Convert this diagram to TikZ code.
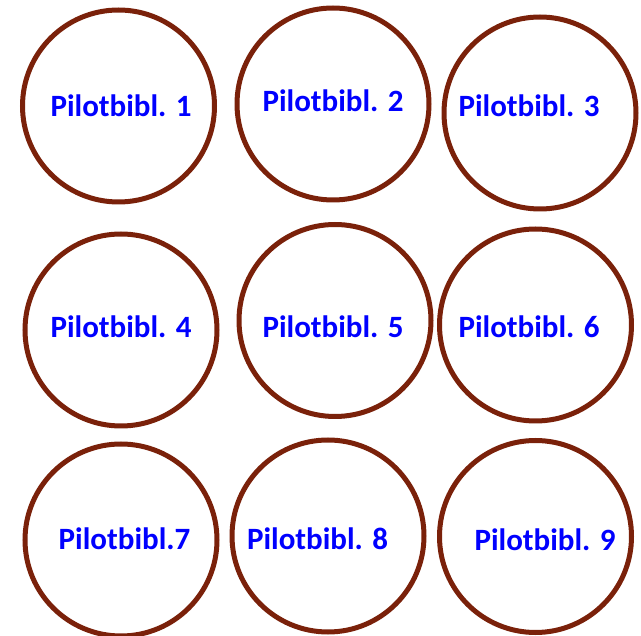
\documentclass[tikz,border=0pt]{standalone}
\usepackage{fontspec}
\setmainfont{Carlito}
\definecolor{ringbrown}{RGB}{122,33,10}
\definecolor{labelblue}{RGB}{0,0,255}
\begin{document}
\begin{tikzpicture}[x=1pt,y=-1pt,
  ring/.style={circle,draw=ringbrown,line width=5pt,minimum size=192pt,inner sep=0pt},
  lbl/.style={anchor=base,text=labelblue,font=\fontsize{31}{36}\selectfont\bfseries,inner sep=0pt}]
\useasboundingbox (0,0) rectangle (641,636);
\node[ring] (c1) at (118.5,106) {};
\node[ring] (c2) at (333,104) {};
\node[ring] (c3) at (540,113) {};
\node[ring] (c4) at (121,330) {};
\node[ring] (c5) at (335,320.5) {};
\node[ring] (c6) at (535.5,325) {};
\node[ring] (c7) at (121,540) {};
\node[ring] (c8) at (328,536) {};
\node[ring] (c9) at (535.5,536.5) {};
\node[lbl] (t1) at (121,117) {Pilotbibl. 1};
\node[lbl] (t2) at (333,112) {Pilotbibl. 2};
\node[lbl] (t3) at (529,117) {Pilotbibl. 3};
\node[lbl] (t4) at (121,338) {Pilotbibl. 4};
\node[lbl] (t5) at (333,338) {Pilotbibl. 5};
\node[lbl] (t6) at (529,338) {Pilotbibl. 6};
\node[lbl] (t7) at (124.5,550) {Pilotbibl.7};
\node[lbl] (t8) at (317.5,550) {Pilotbibl. 8};
\node[lbl] (t9) at (545,551) {Pilotbibl. 9};
\end{tikzpicture}
\end{document}
